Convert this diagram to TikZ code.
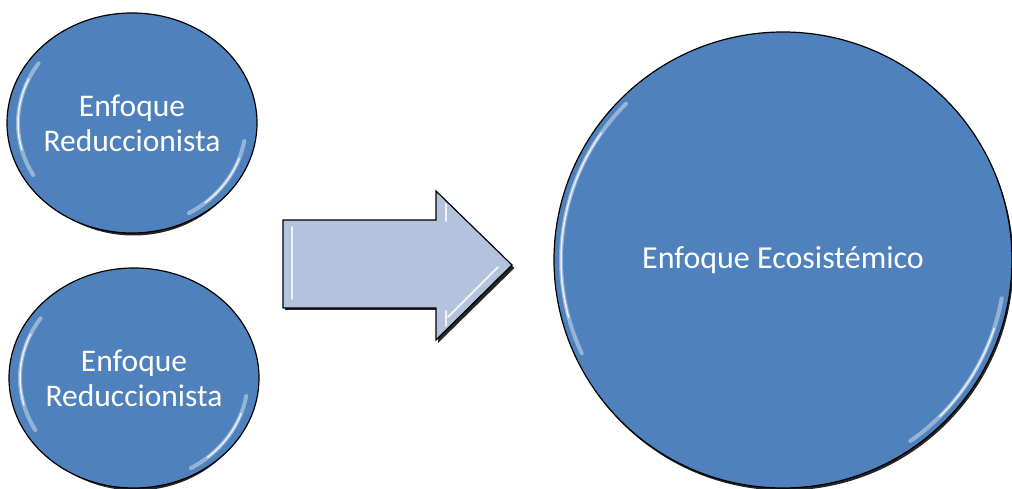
\documentclass[tikz,border=0pt]{standalone}
\usepackage{fontspec}
\setmainfont{Carlito}
\usetikzlibrary{shapes.geometric}
\definecolor{ofblue}{HTML}{4F81BD}
\definecolor{arrowfill}{HTML}{B3C3DD}
\begin{document}
\begin{tikzpicture}[x=1pt,y=1pt,
  bubble/.style={ellipse, fill=ofblue, draw=black, line width=1.2pt, inner sep=0pt,
     text=white, align=center},
  smalltext/.style={font=\fontsize{31.5}{35}\selectfont},
  bigtext/.style={font=\fontsize{32}{38}\selectfont},
  gloss/.style={draw=white, line width=4pt, opacity=0.4, line cap=round},
  glossthin/.style={draw=white, line width=1.5pt, opacity=0.8, line cap=round}]
\useasboundingbox (0,0) rectangle (1012,489);
% shadows
\fill[black!85] (133.5,363.5) ellipse [x radius=120, y radius=110];
\fill[black!85] (135.5,108.5) ellipse [x radius=120, y radius=110];
\fill[black!85] (784.5,226.5) ellipse [x radius=229, y radius=228];
% circles
\node[bubble, smalltext, minimum width=240pt, minimum height=220pt] (r1) at (132,366) {Enfoque\\Reduccionista};
\node[bubble, smalltext, minimum width=240pt, minimum height=220pt] (r2) at (134,111) {Enfoque\\Reduccionista};
\node[bubble, bigtext, minimum width=458pt, minimum height=456pt] (eco) at (783,229) {Enfoque Ecosistémico};
% gloss highlights
\foreach \c/\rx/\ry in {r1/114/104, r2/114/104} {
  \draw[gloss] ([shift={(145:\rx pt and \ry pt)}]\c.center) arc[start angle=145, end angle=210, x radius=\rx, y radius=\ry];
  \draw[glossthin] ([shift={(155:\rx pt and \ry pt)}]\c.center) arc[start angle=155, end angle=195, x radius=\rx, y radius=\ry];
  \draw[gloss] ([shift={(-10:\rx pt and \ry pt)}]\c.center) arc[start angle=-10, end angle=-60, x radius=\rx, y radius=\ry];
  \draw[glossthin] ([shift={(-20:\rx pt and \ry pt)}]\c.center) arc[start angle=-20, end angle=-50, x radius=\rx, y radius=\ry];
}
\draw[gloss] ([shift={(135:222pt and 221pt)}]eco.center) arc[start angle=135, end angle=205, x radius=222, y radius=221];
\draw[glossthin] ([shift={(145:222pt and 221pt)}]eco.center) arc[start angle=145, end angle=195, x radius=222, y radius=221];
\draw[gloss] ([shift={(-10:222pt and 221pt)}]eco.center) arc[start angle=-10, end angle=-55, x radius=222, y radius=221];
\draw[glossthin] ([shift={(-18:222pt and 221pt)}]eco.center) arc[start angle=-18, end angle=-45, x radius=222, y radius=221];
% block arrow
\fill[black!85] (285,267) -- (438,267) -- (438,296) -- (514.5,221) -- (438,146) -- (438,179) -- (285,179) -- cycle;
\draw[fill=arrowfill, draw=black, line width=1.2pt] (283,269) -- (436,269) -- (436,298) -- (512,224) -- (436,149) -- (436,181) -- (283,181) -- cycle;
\draw[glossthin, line width=2pt] (292,262) -- (292,190);
\draw[glossthin, line width=2pt] (446,285) -- (446,268);
\draw[glossthin, line width=2pt] (448,172) -- (498,222);
\draw[glossthin, line width=2pt] (446,178) -- (446,163);
\end{tikzpicture}
\end{document}
